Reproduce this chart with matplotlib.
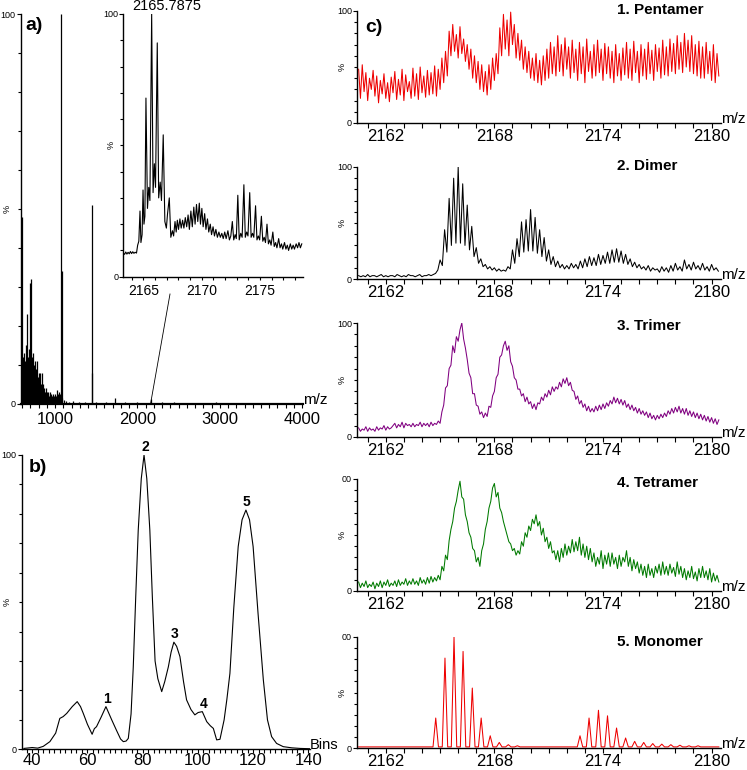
import numpy as np
import matplotlib
matplotlib.use("Agg")
import matplotlib.pyplot as plt
from matplotlib.ticker import MultipleLocator, FixedLocator
from matplotlib.lines import Line2D

plt.rcParams['font.family'] = ['Liberation Sans', 'DejaVu Sans']

# ---------------- DATA ----------------
# panel a) full mass spectrum (stick list)
a_mz = [588, 595, 601, 607, 613, 619, 625, 631, 637, 643, 649, 656, 662, 668, 674, 680,
        686, 692, 698, 704, 710, 716, 722, 728, 734, 740, 746, 752, 758, 764, 770, 777,
        783, 790, 797, 804, 811, 818, 825, 832, 839, 846, 853, 861, 869, 877, 885, 893,
        901, 910, 919, 928, 937, 946, 955, 964, 974, 984, 994, 1004, 1014, 1024, 1034,
        1044, 1054, 1064, 1072, 1078, 1083, 1090, 1105, 1130, 1170, 1220, 1290, 1360,
        1446, 1451, 1500, 1620, 1729, 1850, 2000, 2163, 2300, 2450, 2700, 2950, 3300, 3700]
a_int = [7, 48, 9, 12, 6, 10, 13, 8, 11, 9, 15, 23, 10, 12, 8, 14,
         9, 11, 31, 10, 32, 12, 8, 13, 7, 10, 9, 6, 11, 8, 9, 11,
         6, 7, 5, 8, 6, 8, 5, 4, 8, 4, 5, 3, 4, 3, 4, 3,
         3, 2.5, 3, 2, 3, 2, 2.5, 2, 2.5, 2, 2, 2.5, 2, 3.6, 2.5,
         3, 2, 2.5, 1.5, 100, 34, 1.5, 1, 0.8, 0.6, 0.7, 0.5, 0.6,
         51, 8, 0.5, 0.4, 1.5, 0.4, 0.5, 1.2, 0.4, 0.5, 0.3, 0.4, 0.3, 0.3]
a_xticks = [1000, 2000, 3000, 4000]

# panel a) inset (zoom around 2165)
inset_mz = [2163.29, 2163.40, 2163.50, 2163.60, 2163.70, 2163.80, 2163.90, 2164.00, 2164.10,
            2164.20, 2164.30, 2164.42, 2164.52, 2164.62, 2164.72, 2164.80, 2164.90, 2164.98,
            2165.06, 2165.14, 2165.23, 2165.36, 2165.47, 2165.57, 2165.72, 2165.84, 2165.95,
            2166.05, 2166.20, 2166.32, 2166.45, 2166.56, 2166.71, 2166.85, 2166.98, 2167.08,
            2167.23, 2167.36, 2167.50, 2167.60, 2167.72, 2167.82, 2167.92, 2168.02, 2168.14,
            2168.25, 2168.37, 2168.48, 2168.60, 2168.72, 2168.84, 2168.95, 2169.08, 2169.20,
            2169.33, 2169.44, 2169.56, 2169.67, 2169.80, 2169.90, 2170.02, 2170.13, 2170.26,
            2170.37, 2170.50, 2170.61, 2170.74, 2170.85, 2170.98, 2171.10, 2171.22, 2171.35,
            2171.48, 2171.60, 2171.73, 2171.85, 2171.98, 2172.10, 2172.25, 2172.38, 2172.50,
            2172.63, 2172.75, 2172.87, 2172.97, 2173.10, 2173.22, 2173.35, 2173.47, 2173.62,
            2173.74, 2173.86, 2173.97, 2174.12, 2174.24, 2174.36, 2174.47, 2174.62, 2174.74,
            2174.86, 2174.97, 2175.12, 2175.24, 2175.36, 2175.47, 2175.60, 2175.72, 2175.84,
            2175.95, 2176.10, 2176.22, 2176.34, 2176.45, 2176.60, 2176.72, 2176.84, 2176.95,
            2177.10, 2177.22, 2177.34, 2177.45, 2177.60, 2177.72, 2177.84, 2177.95, 2178.10,
            2178.22, 2178.34, 2178.46, 2178.58]
inset_int = [9.0, 8.5, 9.4, 8.6, 9.3, 8.7, 9.6, 8.8, 9.5,
             8.9, 9.3, 9.0, 12.0, 13.5, 25.0, 13.0, 16.0, 33.0,
             20.0, 23.0, 68.0, 26.0, 34.0, 29.0, 100.0, 32.0, 43.0,
             34.0, 89.0, 30.0, 36.0, 29.0, 54.0, 21.0, 18.5, 24.0,
             30.0, 15.0, 17.5, 15.5, 21.0, 17.0, 21.5, 18.0, 22.0,
             18.5, 21.5, 18.5, 22.5, 19.0, 23.5, 18.0, 25.0, 19.0,
             26.5, 20.0, 27.5, 21.0, 28.0, 20.0, 26.0, 19.0, 24.0,
             18.0, 22.0, 17.0, 20.0, 16.0, 19.0, 15.5, 18.0, 15.0,
             17.0, 15.0, 16.5, 14.5, 17.0, 14.5, 17.5, 14.0, 15.5,
             21.0, 14.0, 16.0, 14.5, 31.0, 14.0, 16.5, 15.0, 35.0,
             15.0, 17.0, 15.5, 32.0, 15.0, 16.5, 15.0, 27.0, 14.0,
             15.5, 14.0, 23.0, 13.5, 15.0, 13.0, 20.0, 12.5, 14.0,
             12.0, 17.0, 11.5, 13.0, 11.0, 14.5, 11.0, 12.5, 10.5,
             13.0, 10.5, 12.0, 10.0, 12.5, 10.5, 12.0, 10.5, 12.5,
             11.0, 13.0, 11.0, 12.5]
inset_apex_label = '2165.7875'
inset_xticks = [2165, 2170, 2175]

# panel b) arrival time distribution
b_bins = [37, 40, 42, 44, 46.4, 48.5, 50, 51.2, 52.5, 54.5, 56.3, 57.5, 58.5, 60, 61.7,
          62.5, 63.3, 65, 66.7, 68.8, 70.5, 72, 73, 74, 74.8, 75.8, 76.6, 77.5, 78.4,
          79.5, 80.5, 81.5, 82.6, 83.5, 84.5, 85.5, 86.9, 88, 89.3, 90.3, 91.3, 92.3,
          93.5, 94.8, 95.9, 97.5, 98.9, 100.1, 101.6, 103.2, 104.5, 105.6, 106.8, 108,
          109.5, 110.5, 111.6, 113, 114.6, 116, 117.4, 118.7, 120, 121.8, 123.7, 125.2,
          126.7, 128.5, 130.9, 134, 137, 140.5]
b_pct = [0.3, 0.6, 0.4, 1.0, 2.6, 5.5, 10.5, 11.1, 12.2, 14.5, 16.2, 14.5, 12.2, 8.5, 5.1,
         7.0, 7.7, 11.0, 14.5, 10.0, 6.5, 3.5, 2.6, 2.8, 3.7, 12.0, 28.0, 52.0, 74.5,
         92.0, 100.0, 92.0, 74.5, 52.0, 30.0, 24.0, 19.6, 23.0, 28.0, 33.0, 36.4, 35.0,
         31.5, 23.0, 16.8, 13.5, 11.7, 12.5, 12.8, 9.4, 8.0, 7.1, 3.2, 3.4,
         10.0, 17.0, 25.8, 48.0, 68.9, 78.0, 81.3, 78.0, 68.9, 46.0, 23.6, 10.0,
         4.3, 2.0, 0.9, 0.5, 0.3, 0.2]
b_peak_names = ['1', '2', '3', '4', '5']
b_peak_bins = [66.7, 80.5, 91.3, 101.6, 117.4]
b_xticks = [40, 60, 80, 100, 120, 140]

# panel c) extracted spectra
c_titles = ['1. Pentamer', '2. Dimer', '3. Trimer', '4. Tetramer', '5. Monomer']
c_ytop_labels = ['100', '100', '100', '00', '00']
c_xticks = [2162, 2168, 2174, 2180]
c_mz_start = 2160.5

pent_step = 0.1
pent_int = [48, 22, 52, 28, 45, 20, 40, 30, 47, 24,
            42, 18, 38, 26, 44, 22, 36, 19, 41, 27,
            46, 21, 39, 25, 48, 20, 43, 28, 37, 22,
            49, 24, 44, 21, 50, 27, 42, 23, 47, 25,
            45, 26, 51, 24, 48, 30, 58, 36, 64, 42,
            82, 60, 88, 64, 79, 58, 86, 62, 75, 55,
            70, 48, 66, 40, 60, 36, 55, 30, 52, 28,
            46, 25, 52, 30, 58, 38, 62, 44, 85, 60,
            97, 66, 92, 60, 99, 70, 88, 58, 80, 56,
            74, 48, 68, 45, 64, 40, 58, 38, 62, 36,
            56, 34, 60, 38, 66, 40, 72, 44, 68, 42,
            78, 46, 70, 42, 76, 48, 68, 40, 74, 45,
            66, 38, 72, 44, 68, 36, 75, 46, 64, 40,
            70, 42, 74, 45, 66, 38, 71, 44, 68, 40,
            64, 36, 70, 42, 62, 38, 67, 43, 72, 40,
            66, 38, 73, 45, 64, 36, 70, 42, 66, 39,
            72, 44, 65, 38, 70, 46, 67, 40, 74, 43,
            68, 42, 75, 46, 71, 44, 78, 48, 72, 45,
            80, 50, 74, 46, 78, 44, 70, 42, 73, 40,
            68, 40, 72, 44, 64, 38, 70, 36, 62, 42]

dimer_step = 0.125
dimer_int = [3, 2, 3, 2, 4, 2, 3, 3,
             2, 3, 4, 2, 3, 2, 3, 3,
             2, 4, 3, 2, 3, 2, 4, 3,
             3, 2, 3, 4, 2, 3, 3, 4,
             3, 4, 5, 8, 17, 12, 44, 24,
             72, 30, 90, 32, 100, 32, 85, 30,
             66, 26, 47, 20, 28, 14, 18, 11,
             13, 9, 11, 8, 10, 7, 9, 7,
             8, 7, 11, 9, 26, 14, 36, 20,
             51, 24, 53, 25, 62, 25, 55, 23,
             44, 20, 37, 16, 26, 13, 20, 11,
             16, 10, 13, 9, 12, 9, 14, 10,
             13, 9, 16, 10, 18, 11, 20, 12,
             19, 12, 22, 13, 21, 14, 24, 14,
             26, 15, 27, 15, 25, 14, 22, 13,
             18, 11, 15, 10, 13, 9, 11, 8,
             12, 7, 10, 8, 9, 6, 11, 7,
             10, 6, 12, 7, 14, 8, 11, 7,
             17, 9, 13, 8, 15, 9, 12, 8,
             14, 8, 11, 7, 13, 8, 10, 7]

trimer_step = 0.1
trimer_int = [8, 5, 7, 6, 9, 5, 8, 6, 7, 5,
              9, 6, 8, 7, 10, 6, 9, 7, 8, 10,
              12, 8, 11, 9, 13, 8, 12, 10, 11, 9,
              12, 9, 11, 10, 13, 9, 12, 10, 12, 9,
              13, 10, 12, 11, 14, 12, 22, 28, 43, 45,
              60, 63, 80, 74, 88, 84, 94, 100, 86, 78,
              68, 56, 52, 38, 38, 28, 27, 20, 22, 17,
              21, 18, 27, 26, 36, 40, 52, 55, 70, 72,
              80, 84, 76, 80, 66, 62, 52, 50, 42, 42,
              36, 38, 31, 35, 29, 31, 25, 29, 24, 30,
              29, 35, 32, 38, 35, 41, 37, 44, 40, 44,
              42, 48, 44, 51, 47, 52, 45, 48, 41, 40,
              33, 36, 29, 32, 26, 29, 23, 27, 22, 25,
              22, 27, 23, 28, 24, 29, 25, 30, 27, 32,
              29, 35, 30, 34, 29, 33, 28, 32, 26, 29,
              24, 28, 23, 26, 21, 25, 20, 23, 19, 22,
              17, 21, 16, 19, 15, 19, 16, 20, 17, 21,
              18, 23, 20, 25, 21, 26, 22, 27, 21, 25,
              20, 25, 19, 23, 18, 22, 17, 21, 16, 20,
              15, 19, 14, 18, 13, 17, 12, 16, 11, 15]

tetramer_step = 0.1
tetramer_int = [8, 3, 7, 4, 9, 3, 6, 4, 8, 2,
                7, 4, 9, 3, 8, 5, 10, 4, 7, 5,
                9, 4, 10, 5, 8, 6, 11, 5, 9, 6,
                11, 6, 9, 5, 12, 7, 10, 6, 12, 7,
                13, 8, 12, 9, 14, 10, 22, 18, 32, 28,
                45, 55, 62, 74, 80, 90, 98, 84, 82, 68,
                62, 52, 48, 38, 36, 26, 30, 22, 36, 42,
                55, 62, 74, 80, 92, 96, 84, 88, 74, 70,
                62, 56, 50, 44, 42, 36, 38, 32, 36, 33,
                44, 40, 52, 48, 58, 54, 64, 60, 68, 58,
                62, 50, 56, 44, 48, 38, 44, 34, 36, 28,
                36, 26, 38, 30, 42, 32, 40, 34, 46, 35,
                44, 36, 48, 32, 42, 30, 40, 28, 38, 26,
                34, 22, 30, 24, 36, 20, 32, 24, 34, 22,
                34, 24, 30, 20, 32, 22, 30, 26, 36, 22,
                30, 18, 28, 20, 26, 16, 24, 14, 22, 12,
                24, 14, 20, 12, 22, 16, 24, 14, 26, 15,
                22, 14, 24, 16, 21, 13, 26, 15, 22, 12,
                20, 10, 18, 12, 22, 11, 17, 9, 20, 12,
                22, 12, 18, 10, 20, 8, 16, 9, 14, 8]

mono_peak_mz = [2164.76, 2165.27, 2165.77, 2166.27, 2166.78, 2167.27, 2167.77, 2168.27,
                2168.77, 2169.27, 2172.73, 2173.23, 2173.75, 2174.25, 2174.75, 2175.25,
                2175.75, 2176.25, 2176.75, 2177.25, 2177.75, 2178.25, 2178.75, 2179.25]
mono_peak_int = [27, 81, 100, 87, 54, 27, 11, 5,
                 3, 2, 11, 27, 34, 29, 18, 9,
                 6, 5, 4, 3.5, 3, 2.5, 2, 2]
mono_baseline = 1.0
mono_mz_end = 2180.4

# ---------------- FIGURE ----------------
W, H = 747, 770
fig = plt.figure(figsize=(W / 100, H / 100), dpi=100)


def fx(px):
    return px / W


def fy(py):
    return 1 - py / H


def add_ax(left, top, right, bottom):
    return fig.add_axes([fx(left), fy(bottom), (right - left) / W, (bottom - top) / H])


def style(ax, top_label='100', pct_off=10, tick_fs=12, xpad=0.5, xlen=3.5):
    for s in ('top', 'right'):
        ax.spines[s].set_visible(False)
    for s in ('left', 'bottom'):
        ax.spines[s].set_linewidth(1.0)
    ax.set_ylim(0, 100)
    ax.yaxis.set_major_locator(FixedLocator([0, 100]))
    ax.yaxis.set_minor_locator(MultipleLocator(10))
    ax.set_yticklabels(['0', top_label])
    ax.tick_params(axis='y', which='major', direction='out', length=3.2, width=0.8,
                   labelsize=6.5, pad=0.5)
    ax.tick_params(axis='y', which='minor', direction='out', length=2, width=0.8)
    ax.tick_params(axis='x', which='both', direction='out', length=xlen, width=0.8,
                   labelsize=tick_fs, pad=xpad)
    ax.set_ylabel('%', fontsize=6.5, rotation=90)
    bb = ax.get_position()
    ax.yaxis.set_label_coords(-pct_off / (bb.width * W), 0.5)
    ax.patch.set_alpha(0)


def unit_label(ax, text, fs):
    ax.annotate(text, xy=(1.0, 0.0), xycoords='axes fraction', xytext=(0, 0),
                textcoords='offset pixels', ha='left', va='baseline', fontsize=fs)


# ---- panel a ----
ax_a = add_ax(20.7, 14, 303, 404)
ax_a.vlines(a_mz, 0, a_int, color='black', lw=0.9)
ax_a.set_xlim(583, 4010)
ax_a.xaxis.set_major_locator(FixedLocator(a_xticks))
ax_a.xaxis.set_minor_locator(MultipleLocator(100))
style(ax_a, pct_off=9, tick_fs=12, xpad=2.5, xlen=3)
ax_a.spines['bottom'].set_linewidth(1.6)
unit_label(ax_a, 'm/z', 11)

# ---- inset ----
ax_in = add_ax(123.3, 14, 303.3, 276.7)
ax_in.patch.set_facecolor('white')
ax_in.plot(inset_mz, inset_int, color='black', lw=0.8)
ax_in.set_xlim(2163.29, 2178.71)
ax_in.xaxis.set_major_locator(FixedLocator(inset_xticks))
ax_in.xaxis.set_minor_locator(MultipleLocator(1))
style(ax_in, pct_off=8, tick_fs=10, xpad=2.5, xlen=2.5)
ax_in.patch.set_alpha(1)
apex = int(np.argmax(inset_int))
ax_in.annotate(inset_apex_label, xy=(inset_mz[apex], inset_int[apex]), xytext=(15, 1),
               textcoords='offset pixels', ha='center', va='bottom', fontsize=10.5,
               annotation_clip=False)

# connector from main spectrum to inset
fig.add_artist(Line2D([fx(170), fx(150.7)], [fy(294), fy(403)], lw=0.6, color='black'))

# ---- panel b ----
ax_b = add_ax(21.7, 455, 310, 749.3)
ax_b.plot(b_bins, b_pct, color='black', lw=0.8)
ax_b.set_xlim(36.2, 140.6)
ax_b.xaxis.set_major_locator(FixedLocator(b_xticks))
ax_b.xaxis.set_minor_locator(MultipleLocator(2))
style(ax_b, pct_off=10, tick_fs=12, xpad=-0.5, xlen=3)
unit_label(ax_b, 'Bins', 10.5)
for name, bx in zip(b_peak_names, b_peak_bins):
    by = b_pct[b_bins.index(bx)]
    ax_b.annotate(name, xy=(bx, by), xytext=(1, 1), textcoords='offset pixels',
                  ha='center', va='bottom', fontsize=10, fontweight='bold',
                  annotation_clip=False)

# ---- panel c ----
c_tops = [11, 167, 323, 479, 637]
c_bottoms = [123, 279, 437, 591, 748]
c_title_y = [10, 165.5, 325.5, 483.5, 642]
c_colors = ['#ee0000', 'black', '#800080', '#007a00', '#ee0000']

traces = []
for step, vals in [(pent_step, pent_int), (dimer_step, dimer_int),
                   (trimer_step, trimer_int), (tetramer_step, tetramer_int)]:
    traces.append((c_mz_start + step * np.arange(len(vals)), np.array(vals, float)))

mx = [c_mz_start]
my = [mono_baseline]
for c, h in zip(mono_peak_mz, mono_peak_int):
    mx += [c - 0.15, c, c + 0.15]
    my += [mono_baseline, h, mono_baseline]
mx.append(mono_mz_end)
my.append(mono_baseline)
traces.append((np.array(mx), np.array(my)))

for i in range(5):
    ax = add_ax(357, c_tops[i], 721, c_bottoms[i])
    x, y = traces[i]
    ax.plot(x, y, color=c_colors[i], lw=0.75)
    ax.set_xlim(2160.41, 2180.52)
    ax.xaxis.set_major_locator(FixedLocator(c_xticks))
    ax.xaxis.set_minor_locator(MultipleLocator(1))
    style(ax, top_label=c_ytop_labels[i], pct_off=10, tick_fs=12, xpad=0.5, xlen=3.5)
    unit_label(ax, 'm/z', 11)
    fig.text(fx(617), fy(c_title_y[i]), c_titles[i], ha='left', va='center',
             fontsize=11, fontweight='bold')

# panel letters
fig.text(fx(34), fy(26), 'a)', ha='center', va='center', fontsize=14, fontweight='bold')
fig.text(fx(38), fy(467), 'b)', ha='center', va='center', fontsize=14, fontweight='bold')
fig.text(fx(374), fy(27), 'c)', ha='center', va='center', fontsize=14, fontweight='bold')

fig.savefig('out.png', dpi=100)
